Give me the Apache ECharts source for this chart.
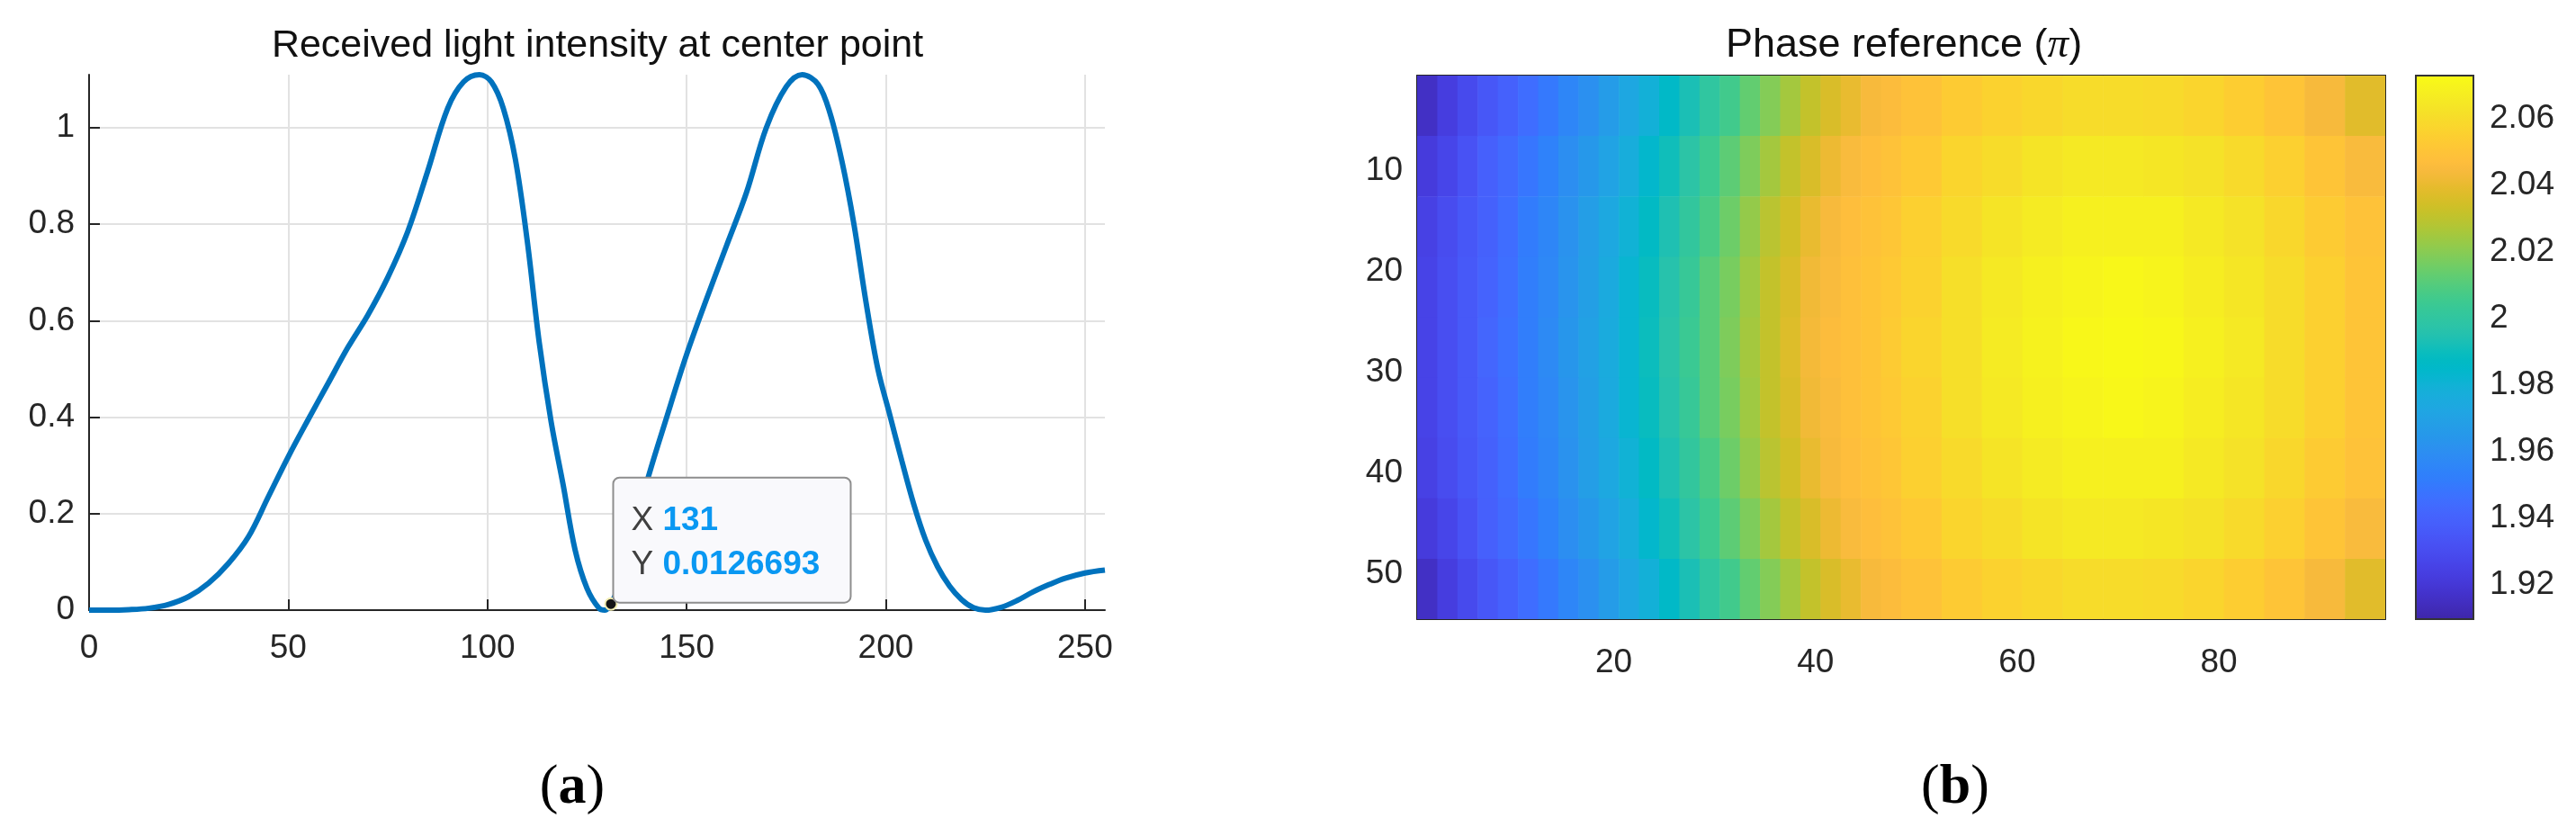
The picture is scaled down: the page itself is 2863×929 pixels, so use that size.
<!DOCTYPE html>
<html><head><meta charset="utf-8">
<script src="https://cdn.jsdelivr.net/npm/echarts@6/dist/echarts.min.js"></script>
<style>html,body{margin:0;padding:0;background:#fff}#c{width:2863px;height:929px}</style>
</head><body><div id="c"></div>
<script>
// ---------- Panel (a): received light intensity ----------
const intensityX = [0,5,10,15,20,25,30,35,40,45,50,55,60,65,70,75,80,85,90,94,98,101,104,107,110,113,116,119,122,125,128,129.5,131,134,137,140,145,150,155,160,165,170,175,179,183,186,189,192,195,198,201,204,207,210,213,216,219,222,225,229,233,237,241,245,250,255];
const intensityY = [0,0,0.001,0.004,0.012,0.028,0.056,0.097,0.152,0.235,0.318,0.395,0.47,0.545,0.612,0.69,0.785,0.91,1.04,1.095,1.11,1.095,1.04,0.935,0.765,0.555,0.39,0.26,0.125,0.045,0.004,0,0.0127,0.07,0.165,0.265,0.40,0.53,0.645,0.755,0.865,1.0,1.085,1.11,1.09,1.03,0.93,0.80,0.64,0.50,0.405,0.31,0.22,0.145,0.09,0.05,0.022,0.005,0,0.006,0.02,0.038,0.053,0.066,0.077,0.083];
const tipX = 131, tipY = 0.0126693;
const aXTicks = [0,50,100,150,200,250];
const aYTicks = [0,0.2,0.4,0.6,0.8,1];

// ---------- Panel (b): phase reference (pi) ----------
const phaseColEdges = [0.5,2.5,4.5,6.5,8.5,10.5,12.5,14.5,16.5,18.5,20.5,22.5,24.5,26.5,28.5,30.5,32.5,34.5,36.5,38.5,40.5,42.5,44.5,46.5,48.5,52.5,56.5,60.5,64.5,68.5,72.5,76.5,80.5,84.5,88.5,92.5,96.5];
const phaseRowEdges = [0.5,6.5,12.5,18.5,24.5,30.5,36.5,42.5,48.5,54.5];
const phaseRow1 = [1.916,1.923,1.929,1.935,1.940,1.945,1.950,1.956,1.961,1.967,1.973,1.979,1.986,1.993,2.000,2.006,2.013,2.019,2.025,2.031,2.036,2.040,2.044,2.046,2.049,2.053,2.056,2.058,2.060,2.060,2.059,2.057,2.054,2.050,2.044,2.038];
const phaseRow2 = [1.922,1.927,1.933,1.939,1.944,1.949,1.954,1.960,1.965,1.971,1.977,1.984,1.991,1.998,2.005,2.012,2.018,2.025,2.031,2.036,2.041,2.045,2.047,2.049,2.052,2.057,2.060,2.063,2.065,2.065,2.064,2.062,2.059,2.055,2.050,2.045];
const phaseRow3 = [1.925,1.930,1.935,1.940,1.945,1.951,1.956,1.962,1.968,1.974,1.980,1.987,1.994,2.001,2.008,2.015,2.022,2.029,2.034,2.040,2.044,2.047,2.049,2.051,2.055,2.059,2.063,2.066,2.068,2.068,2.068,2.065,2.062,2.058,2.053,2.049];
const phaseRow4 = [1.926,1.931,1.936,1.941,1.946,1.952,1.957,1.963,1.969,1.975,1.982,1.989,1.996,2.003,2.011,2.017,2.024,2.031,2.036,2.042,2.045,2.048,2.050,2.052,2.056,2.061,2.065,2.068,2.070,2.071,2.070,2.067,2.064,2.060,2.055,2.050];
const phaseRow5 = [1.926,1.931,1.936,1.942,1.947,1.952,1.958,1.964,1.970,1.976,1.982,1.990,1.997,2.004,2.011,2.018,2.025,2.031,2.037,2.043,2.046,2.048,2.050,2.053,2.057,2.061,2.066,2.069,2.071,2.072,2.071,2.068,2.065,2.060,2.055,2.050];
const phaseRow6 = [1.926,1.931,1.936,1.941,1.946,1.952,1.957,1.963,1.969,1.975,1.982,1.989,1.996,2.003,2.011,2.017,2.024,2.031,2.036,2.042,2.045,2.048,2.050,2.052,2.056,2.061,2.065,2.068,2.070,2.071,2.070,2.067,2.064,2.060,2.055,2.050];
const phaseRow7 = [1.925,1.930,1.935,1.940,1.945,1.951,1.956,1.962,1.968,1.974,1.980,1.987,1.994,2.001,2.008,2.015,2.022,2.029,2.034,2.040,2.044,2.047,2.049,2.051,2.055,2.059,2.063,2.066,2.068,2.068,2.068,2.065,2.062,2.058,2.053,2.049];
const phaseRow8 = [1.922,1.927,1.933,1.939,1.944,1.949,1.954,1.960,1.965,1.971,1.977,1.984,1.991,1.998,2.005,2.012,2.018,2.025,2.031,2.036,2.041,2.045,2.047,2.049,2.052,2.057,2.060,2.063,2.065,2.065,2.064,2.062,2.059,2.055,2.050,2.045];
const phaseRow9 = [1.916,1.923,1.929,1.935,1.940,1.945,1.950,1.956,1.961,1.967,1.973,1.979,1.986,1.993,2.000,2.006,2.013,2.019,2.025,2.031,2.036,2.040,2.044,2.046,2.049,2.053,2.056,2.058,2.060,2.060,2.059,2.057,2.054,2.050,2.044,2.038];
const phaseRows = [phaseRow1,phaseRow2,phaseRow3,phaseRow4,phaseRow5,phaseRow6,phaseRow7,phaseRow8,phaseRow9];
const bXTicks = [20,40,60,80];
const bYTicks = [10,20,30,40,50];
const cbTicks = [1.92,1.94,1.96,1.98,2,2.02,2.04,2.06];
const cbMin = 1.9097, cbMax = 2.0729;

// ---------- styling: MATLAB parula colormap (64 entries) ----------
const parula = ['#3E26A8','#402AB4','#422EC0','#4332CB','#4537D5','#463CDE','#4741E5','#4747EB','#484DF0','#4852F4','#4758F8','#465EFB','#4563FD','#4269FE','#3E6FFF','#3875FE','#327CFC','#2F81FA','#2E87F7','#2D8CF3','#2B91EF','#2796EB','#259BE8','#23A0E5','#20A5E3','#1CA9DF','#18ADDB','#12B1D6','#08B5D0','#01B8CA','#02BAC3','#0BBDBD','#19BFB6','#24C1AE','#2CC4A7','#31C69F','#37C897','#3FCA8E','#4ACB84','#57CC7A','#64CD6F','#72CD64','#81CC59','#8FCB4E','#9DC943','#ABC739','#B9C431','#C5C22A','#D1BF27','#DCBD29','#E6BB2D','#F0BA36','#F8BA3D','#FEBE3C','#FEC338','#FEC934','#FCCF30','#FAD62D','#F7DC2A','#F5E327','#F5E924','#F6EF20','#F7F51B','#F9FB15'];
const FONT = 'Liberation Sans';
const TXT = '#262626';
const AX = '#262626';

const lineData = intensityX.map((x, i) => [x, intensityY[i]]);
const cells = [];
for (let r = 0; r < phaseRows.length; r++) {
  for (let c = 0; c < phaseRows[r].length; c++) {
    cells.push([phaseColEdges[c], phaseColEdges[c + 1], phaseRowEdges[r], phaseRowEdges[r + 1], phaseRows[r][c]]);
  }
}

const chart = echarts.init(document.getElementById('c'));
const lbl = (extra) => Object.assign({fontFamily: FONT, fontSize: 37, color: TXT}, extra);

chart.setOption({
  animation: false,
  backgroundColor: '#ffffff',
  title: [
    {text: 'Received light intensity at center point', left: 664, top: 26, textAlign: 'center', padding: 0,
     textStyle: {fontFamily: FONT, fontSize: 43, fontWeight: 'normal', color: '#111', lineHeight: 50}},
    {text: 'Phase reference ({pi|π})', left: 2116, top: 25, textAlign: 'center', padding: 0,
     textStyle: {fontFamily: FONT, fontSize: 45, fontWeight: 'normal', color: '#111', lineHeight: 52,
       rich: {pi: {fontFamily: 'Liberation Serif', fontStyle: 'italic', fontSize: 47, color: '#111', lineHeight: 52}}}},
    {text: '({b|a})', left: 636, top: 840, textAlign: 'center', padding: 0,
     textStyle: {fontFamily: 'Liberation Serif', fontSize: 62, fontWeight: 'normal', color: '#000', lineHeight: 72,
       rich: {b: {fontFamily: 'Liberation Serif', fontSize: 62, fontWeight: 'bold', color: '#000', lineHeight: 72}}}},
    {text: '({b|b})', left: 2173, top: 840, textAlign: 'center', padding: 0,
     textStyle: {fontFamily: 'Liberation Serif', fontSize: 62, fontWeight: 'normal', color: '#000', lineHeight: 72,
       rich: {b: {fontFamily: 'Liberation Serif', fontSize: 62, fontWeight: 'bold', color: '#000', lineHeight: 72}}}}
  ],
  grid: [
    {left: 99, top: 83, width: 1129, height: 595},
    {left: 1575, top: 84, width: 1076, height: 604},
    {left: 2685, top: 84, width: 64, height: 604}
  ],
  xAxis: [
    {gridIndex: 0, type: 'value', min: 0, max: 255,
     axisLine: {show: true, onZero: false, lineStyle: {color: AX, width: 2}},
     axisTick: {show: true, inside: true, length: 12, customValues: aXTicks, lineStyle: {color: AX, width: 2}},
     axisLabel: lbl({customValues: aXTicks, margin: 24}),
     splitLine: {show: true, lineStyle: {color: '#E2E2E2', width: 2}}},
    {gridIndex: 1, type: 'value', min: 0.5, max: 96.5,
     axisLine: {show: true, onZero: false, lineStyle: {color: AX, width: 2}},
     axisTick: {show: true, inside: true, length: 10, customValues: bXTicks, lineStyle: {color: AX, width: 2}},
     axisLabel: lbl({customValues: bXTicks, margin: 30}),
     splitLine: {show: false}},
    {gridIndex: 1, type: 'value', position: 'top', min: 0.5, max: 96.5,
     axisLine: {show: true, onZero: false, lineStyle: {color: AX, width: 2}},
     axisTick: {show: true, inside: true, length: 10, customValues: bXTicks, lineStyle: {color: AX, width: 2}},
     axisLabel: {show: false}, splitLine: {show: false}},
    {gridIndex: 2, type: 'value', min: 0, max: 1, show: false}
  ],
  yAxis: [
    {gridIndex: 0, type: 'value', min: 0, max: 1.11,
     axisLine: {show: true, onZero: false, lineStyle: {color: AX, width: 2}},
     axisTick: {show: true, inside: true, length: 12, customValues: aYTicks, lineStyle: {color: AX, width: 2}},
     axisLabel: lbl({customValues: aYTicks, margin: 16}),
     splitLine: {show: true, lineStyle: {color: '#E2E2E2', width: 2}}},
    {gridIndex: 1, type: 'value', inverse: true, min: 0.5, max: 54.5,
     axisLine: {show: true, onZero: false, lineStyle: {color: AX, width: 2}},
     axisTick: {show: true, inside: true, length: 10, customValues: bYTicks, lineStyle: {color: AX, width: 2}},
     axisLabel: lbl({customValues: bYTicks, margin: 16}),
     splitLine: {show: false}},
    {gridIndex: 1, type: 'value', position: 'right', inverse: true, min: 0.5, max: 54.5,
     axisLine: {show: true, onZero: false, lineStyle: {color: AX, width: 2}},
     axisTick: {show: true, inside: true, length: 10, customValues: bYTicks, lineStyle: {color: AX, width: 2}},
     axisLabel: {show: false}, splitLine: {show: false}},
    {gridIndex: 2, type: 'value', position: 'right', min: cbMin, max: cbMax,
     axisLine: {show: true, onZero: false, lineStyle: {color: AX, width: 2}},
     axisTick: {show: true, inside: true, length: 8, customValues: cbTicks, lineStyle: {color: AX, width: 2}},
     axisLabel: lbl({customValues: cbTicks, margin: 18, formatter: v => String(+v.toFixed(2))}),
     splitLine: {show: false}}
  ],
  visualMap: {type: 'continuous', show: false, min: cbMin, max: cbMax, dimension: 4, seriesIndex: 2,
    inRange: {color: parula}},
  series: [
    {type: 'line', xAxisIndex: 0, yAxisIndex: 0, data: lineData, smooth: 0.35, symbol: 'none', clip: false,
     lineStyle: {color: '#0072BD', width: 6}, z: 2},
    {type: 'scatter', xAxisIndex: 0, yAxisIndex: 0, data: [[tipX, tipY]], symbolSize: 13, clip: false, z: 5,
     itemStyle: {color: '#151515', borderColor: '#F2EDB0', borderWidth: 2, opacity: 1},
     label: {show: true, position: [11, 5], align: 'left', verticalAlign: 'bottom', opacity: 1,
       fontFamily: FONT, fontSize: 37, color: '#404040', lineHeight: 49,
       formatter: p => '{k|X} {v|' + p.value[0] + '}\n{k|Y} {v|' + p.value[1] + '}',
       backgroundColor: '#F9F9FC', borderColor: '#8E8E8E', borderWidth: 2, borderRadius: 6,
       padding: [23, 20, 16, 19], width: 223,
       rich: {k: {fontFamily: FONT, fontSize: 37, color: '#404040', lineHeight: 49},
              v: {fontFamily: FONT, fontSize: 37, color: '#0A98F2', fontWeight: 'bold', lineHeight: 49}}}},
    {type: 'custom', xAxisIndex: 1, yAxisIndex: 1, data: cells, encode: {x: [0, 1], y: [2, 3]}, clip: true,
     renderItem: (params, api) => {
       const p0 = api.coord([api.value(0), api.value(2)]);
       const p1 = api.coord([api.value(1), api.value(3)]);
       return {type: 'rect',
         shape: {x: Math.min(p0[0], p1[0]), y: Math.min(p0[1], p1[1]), width: Math.abs(p1[0] - p0[0]) + 0.6, height: Math.abs(p1[1] - p0[1]) + 0.6},
         style: {fill: api.visual('color')}};
     }},
    {type: 'custom', xAxisIndex: 3, yAxisIndex: 3, data: [[0, 1, cbMin, cbMax]], encode: {x: [0, 1], y: [2, 3]},
     renderItem: (params, api) => {
       const p0 = api.coord([api.value(0), api.value(3)]);
       const p1 = api.coord([api.value(1), api.value(2)]);
       return {type: 'rect', shape: {x: p0[0], y: p0[1], width: p1[0] - p0[0], height: p1[1] - p0[1]},
         style: {fill: new echarts.graphic.LinearGradient(0, 1, 0, 0, parula.map((c, i) => ({offset: i / (parula.length - 1), color: c}))),
                 stroke: '#333', lineWidth: 2}};
     }}
  ]
});
</script></body></html>
